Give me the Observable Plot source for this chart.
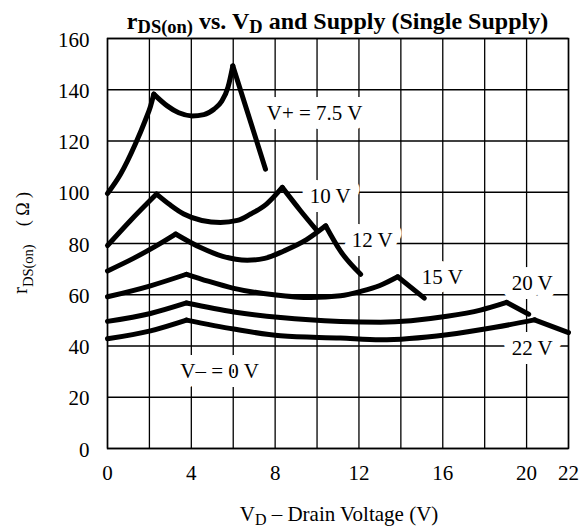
<!DOCTYPE html>
<html>
<head>
<meta charset="utf-8">
<script src="https://cdn.jsdelivr.net/npm/d3@7"></script>
<script src="https://cdn.jsdelivr.net/npm/@observablehq/plot@0.6"></script>
<style>
  html, body { margin: 0; padding: 0; background: white; }
  #chart svg { display: block; }
</style>
</head>
<body>
<div id="chart"></div>
<script>
// ---- data ----
const xTickLabels = [0, 4, 8, 12, 16, 20, 22];
const xGrid = [0, 2, 4, 6, 8, 10, 12, 14, 16, 18, 20, 22];
const yTicks = [0, 20, 40, 60, 80, 100, 120, 140, 160];

// V+ = 7.5 V
const vd75 = [0, 0.62, 1.34, 1.8, 2.05, 2.21, 2.85, 3.4, 4.04, 4.6, 5.08, 5.45, 5.75, 5.98, 6.75, 7.54];
const r75  = [99.5, 107, 119, 128, 133.5, 138.3, 133.7, 131, 129.8, 130.3, 132.4, 135.5, 141, 149.3, 129.5, 109];
const cusp75 = [2.21, 5.98];
// 10 V
const vd10 = [0, 1.1, 2.34, 3.0, 3.64, 4.5, 5.39, 6.2, 6.83, 7.6, 8.34, 9.21, 10.0];
const r10  = [79.2, 89, 99.3, 95, 91.5, 89, 88.2, 89, 91.5, 95.5, 101.9, 92.8, 85];
const cusp10 = [2.34, 8.34];
// 12 V
const vd12 = [0, 1.26, 2.3, 3.25, 4.44, 5.5, 6.67, 7.5, 8.42, 9.5, 10.41, 11.12, 12.08];
const r12  = [69.3, 74.3, 79, 83.7, 78.4, 75, 73.5, 74.2, 77.1, 81.5, 86.9, 77, 68];
const cusp12 = [3.25, 10.41];
// 15 V
const vd15 = [0, 2.05, 3.77, 4.8, 6.03, 7.94, 9.7, 11.12, 12.08, 13.0, 13.85, 15.12];
const r15  = [59.2, 63.5, 68, 65.3, 62.5, 60, 58.9, 59.6, 61.3, 63.6, 67, 58.7];
const cusp15 = [3.77, 13.85];
// 20 V
const vd20 = [0, 2.05, 3.77, 6.03, 8.26, 11.12, 13.03, 16.2, 17.8, 19.05, 20.1];
const r20  = [49.6, 52.7, 56.8, 53.3, 51.1, 49.6, 49.3, 51.6, 54, 57, 52.4];
const cusp20 = [3.77, 19.05];
// 22 V
const vd22 = [0, 2.05, 3.77, 6.03, 8.26, 11.12, 13.03, 16.2, 18.5, 20.38, 22.0];
const r22  = [42.8, 45.9, 50.1, 46.6, 44.0, 43.1, 42.4, 44.4, 47.3, 50.2, 45.2];
const cusp22 = [3.77, 20.38];

const labelText = ["V+ = 7.5 V", "10 V", "12 V", "15 V", "20 V", "22 V", "V\u2013 = 0 V"];
const labelX    = [9.88, 10.63, 12.63, 15.98, 20.27, 20.27, 5.35];
const labelY    = [131.0, 98.3, 81.2, 66.7, 64.6, 39.0, 30.3];

// ---- build tables ----
function segments(name, xs, ys, cusps) {
  const rows = [];
  let seg = 0;
  xs.forEach((x, i) => {
    rows.push({key: name + "-" + seg, x, y: ys[i]});
    if (cusps.includes(x)) {
      seg++;
      rows.push({key: name + "-" + seg, x, y: ys[i]});
    }
  });
  return rows;
}
const curveRows = [
  ...segments("7.5", vd75, r75, cusp75),
  ...segments("10", vd10, r10, cusp10),
  ...segments("12", vd12, r12, cusp12),
  ...segments("15", vd15, r15, cusp15),
  ...segments("20", vd20, r20, cusp20),
  ...segments("22", vd22, r22, cusp22)
];
const labels = labelText.map((t, i) => ({t, x: labelX[i], y: labelY[i]}));

const W = 583, H = 527;
const font = "'Liberation Serif', 'Times New Roman', serif";
const chart = Plot.plot({
  width: W,
  height: H,
  marginLeft: 107,
  marginRight: 15,
  marginTop: 38,
  marginBottom: 79,
  style: {fontFamily: font, fontSize: "21px", color: "black", background: "white"},
  x: {domain: [0, 22], label: null},
  y: {domain: [0, 160], label: null},
  marks: [
    Plot.ruleX(xGrid, {stroke: "black", strokeWidth: 1.3}),
    Plot.ruleY(yTicks, {stroke: "black", strokeWidth: 1.3}),
    Plot.text(labels, {x: "x", y: "y", text: "t", fill: "black", stroke: "white", strokeWidth: 18, strokeLinejoin: "round", fontSize: 21}),
    Plot.line(curveRows, {x: "x", y: "y", z: "key", curve: "monotone-x", stroke: "black", strokeWidth: 5, strokeLinecap: "round", strokeLinejoin: "round"}),
    Plot.frame({stroke: "black", strokeWidth: 1.5}),
    Plot.axisX({ticks: xTickLabels, tickSize: 0, tickPadding: 17, label: null, fontSize: 21}),
    Plot.axisY({ticks: yTicks, tickSize: 0, tickPadding: 18, label: null, fontSize: 21, dy: 1.5})
  ]
});
document.getElementById("chart").appendChild(chart);

// ---- titles with subscripts ----
const svg = d3.select(chart);

const title = svg.append("text")
  .attr("x", 337.5).attr("y", 29.3)
  .attr("text-anchor", "middle")
  .attr("font-family", font).attr("font-weight", "bold").attr("font-size", 24).attr("fill", "black");
title.append("tspan").text("r");
title.append("tspan").attr("dy", 4).attr("font-size", 18.5).text("DS(on)");
title.append("tspan").attr("dy", -4).text(" vs. V");
title.append("tspan").attr("dy", 4).attr("font-size", 18.5).text("D");
title.append("tspan").attr("dy", -4).text(" and Supply (Single Supply)");

const xl = svg.append("text")
  .attr("x", 339).attr("y", 521)
  .attr("text-anchor", "middle")
  .attr("font-family", font).attr("font-size", 21).attr("fill", "black");
xl.append("tspan").text("V");
xl.append("tspan").attr("dy", 4).attr("font-size", 16).text("D");
xl.append("tspan").attr("dy", -4).text(" \u2013 Drain Voltage (V)");

const yl = svg.append("text")
  .attr("transform", "translate(27,294) rotate(-90)")
  .attr("text-anchor", "start")
  .attr("font-family", font).attr("font-size", 21).attr("fill", "black");
yl.append("tspan").text("r");
yl.append("tspan").attr("dy", 6).attr("font-size", 14.5).text("DS(on)");
yl.append("tspan").attr("dy", -4).attr("dx", 18).attr("font-size", 18).text("( \u03A9 )");
</script>
</body>
</html>
